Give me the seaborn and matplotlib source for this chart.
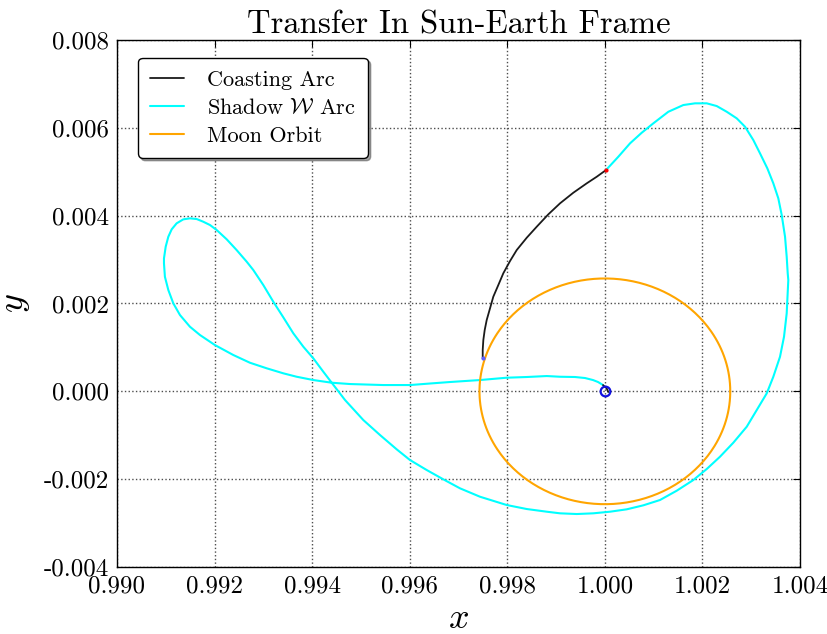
import numpy as np
import pandas as pd
import matplotlib
matplotlib.use("Agg")
import matplotlib.pyplot as plt
from matplotlib.ticker import FormatStrFormatter
import seaborn as sns

# Shadow W arc (rotating Sun-Earth frame, nondimensional units)
shadow_x = [0.999962, 0.999860, 0.999757, 0.999593, 0.999388, 0.999081, 0.998808,
            0.998398, 0.997988, 0.997441, 0.996826, 0.996416, 0.996006, 0.995459,
            0.994776, 0.994401, 0.994024, 0.993683, 0.993409, 0.993069, 0.992725,
            0.992384, 0.992007, 0.991701, 0.991495, 0.991291, 0.991154, 0.991052,
            0.990982, 0.990963, 0.990963, 0.990998, 0.991052, 0.991121, 0.991222,
            0.991359, 0.991495, 0.991634, 0.991768, 0.991906, 0.992043, 0.992249,
            0.992452, 0.992659, 0.992794, 0.992999, 0.993204, 0.993409, 0.993614,
            0.993819, 0.994024, 0.994229, 0.994401, 0.994674, 0.995049, 0.995391,
            0.995733, 0.996005, 0.996348, 0.996689, 0.997031, 0.997440, 0.997988,
            0.998398, 0.998808, 0.999081, 0.999423, 0.999763, 1.000106, 1.000448,
            1.000788, 1.001130, 1.001473, 1.001813, 1.002088, 1.002360, 1.002633,
            1.002908, 1.003113, 1.003318, 1.003453, 1.003590, 1.003672, 1.003727,
            1.003760, 1.003748, 1.003727, 1.003693, 1.003625, 1.003555, 1.003453,
            1.003330, 1.003180, 1.003043, 1.002873, 1.002703, 1.002498, 1.002293,
            1.002088, 1.001848, 1.001608, 1.001301, 1.000993, 1.000755, 1.000516,
            1.000276, 1.000024]
shadow_y = [0.000143, 0.000212, 0.000257, 0.000303, 0.000326, 0.000332, 0.000348,
            0.000326, 0.000310, 0.000257, 0.000212, 0.000178, 0.000143, 0.000143,
            0.000166, 0.000196, 0.000257, 0.000332, 0.000410, 0.000524, 0.000651,
            0.000827, 0.001054, 0.001282, 0.001471, 0.001737, 0.002004, 0.002307,
            0.002609, 0.002915, 0.003028, 0.003293, 0.003520, 0.003689, 0.003825,
            0.003916, 0.003939, 0.003923, 0.003862, 0.003787, 0.003673, 0.003461,
            0.003217, 0.002951, 0.002762, 0.002420, 0.002040, 0.001685, 0.001321,
            0.001016, 0.000751, 0.000446, 0.000196, -0.000198, -0.000654, -0.000995,
            -0.001321, -0.001564, -0.001792, -0.002004, -0.002209, -0.002400, -0.002589,
            -0.002680, -0.002741, -0.002778, -0.002794, -0.002778, -0.002741, -0.002687,
            -0.002596, -0.002475, -0.002263, -0.002020, -0.001769, -0.001489, -0.001170,
            -0.000806, -0.000426, -0.000046, 0.000332, 0.000788, 0.001243, 0.001776,
            0.002534, 0.002687, 0.003065, 0.003520, 0.004014, 0.004395, 0.004736,
            0.005078, 0.005419, 0.005722, 0.006025, 0.006216, 0.006366, 0.006496,
            0.006558, 0.006558, 0.006519, 0.006366, 0.006102, 0.005888, 0.005647,
            0.005342, 0.005039]

# Coasting arc
coast_x = [1.000024, 0.999833, 0.999628, 0.999353, 0.999081, 0.998841, 0.998603,
           0.998398, 0.998193, 0.998056, 0.997918, 0.997816, 0.997713, 0.997646,
           0.997578, 0.997537, 0.997509, 0.997496, 0.997496]
coast_y = [0.005039, 0.004886, 0.004736, 0.004522, 0.004281, 0.004030, 0.003748,
           0.003497, 0.003217, 0.002967, 0.002687, 0.002420, 0.002154, 0.001890,
           0.001624, 0.001396, 0.001168, 0.000940, 0.000751]

# Short coasting hook at departure from Earth
hook_x = [0.999962, 1.000037, 1.000070]
hook_y = [0.000143, 0.000068, -0.000016]

# Earth and Moon orbit
earth_x, earth_y = 1.0, 0.0
moon_radius = 0.00257
theta = np.linspace(0.0, 2.0 * np.pi, 361)
moon_x = earth_x + moon_radius * np.cos(theta)
moon_y = earth_y + moon_radius * np.sin(theta)

x_ticks = [0.990, 0.992, 0.994, 0.996, 0.998, 1.000, 1.002, 1.004]
y_ticks = [-0.004, -0.002, 0.000, 0.002, 0.004, 0.006, 0.008]

sns.set_theme(style="white")
plt.rcParams["font.family"] = ["cmr10", "DejaVu Serif"]
plt.rcParams["mathtext.fontset"] = "cm"
plt.rcParams["axes.unicode_minus"] = False
plt.rcParams["axes.formatter.use_mathtext"] = True
plt.rcParams["text.color"] = "black"
plt.rcParams["axes.labelcolor"] = "black"

fig = plt.figure(figsize=(8.28, 6.34), dpi=100)
ax = fig.add_axes([0.1413, 0.1057, 0.8249, 0.8312])

coast_df = pd.DataFrame({"x": coast_x, "y": coast_y})
shadow_df = pd.DataFrame({"x": shadow_x, "y": shadow_y})
moon_df = pd.DataFrame({"x": moon_x, "y": moon_y})
hook_df = pd.DataFrame({"x": hook_x, "y": hook_y})

sns.lineplot(data=coast_df, x="x", y="y", sort=False, estimator=None, ax=ax,
             color="#1a1a1a", lw=1.3, label="Coasting Arc")
sns.lineplot(data=shadow_df, x="x", y="y", sort=False, estimator=None, ax=ax,
             color="#00ffff", lw=1.5, label=r"Shadow $\mathcal{W}$ Arc")
sns.lineplot(data=moon_df, x="x", y="y", sort=False, estimator=None, ax=ax,
             color="#ffa500", lw=1.5, label="Moon Orbit")
sns.lineplot(data=hook_df, x="x", y="y", sort=False, estimator=None, ax=ax,
             color="#1a1a1a", lw=1.3, legend=False)

ax.plot([earth_x], [earth_y], marker="o", ms=7, mfc="none", mec="#1010e0",
        mew=1.6, ls="none")
ax.plot([coast_x[0]], [coast_y[0]], marker="o", ms=2, color="red", ls="none")
ax.plot([coast_x[-1]], [coast_y[-1]], marker="o", ms=2, color="#6060ff", ls="none")

ax.set_xlim(0.990, 1.004)
ax.set_ylim(-0.004, 0.008)
ax.set_xticks(x_ticks)
ax.set_yticks(y_ticks)
ax.xaxis.set_major_formatter(FormatStrFormatter("%.3f"))
ax.yaxis.set_major_formatter(FormatStrFormatter("%.3f"))
ax.tick_params(direction="in", length=5, width=0.8, top=True, right=True,
               labelsize=18, colors="black", pad=6)
ax.grid(True, ls=":", color="0.3", lw=1.0)
for s in ax.spines.values():
    s.set_color("black")
    s.set_linewidth(1.0)

ax.set_title("Transfer In Sun-Earth Frame", fontsize=23.5, pad=5, color="black")
ax.set_xlabel(r"$x$", fontsize=26, labelpad=4)
ax.set_ylabel(r"$y$", fontsize=26, labelpad=8)

leg = ax.legend(loc="upper left", bbox_to_anchor=(0.031, 0.966), borderaxespad=0,
                fontsize=16, frameon=True, fancybox=True, shadow=True,
                handlelength=1.5, borderpad=0.55, labelspacing=0.38, handletextpad=1.05)
leg.get_frame().set_edgecolor("black")
leg.get_frame().set_linewidth(1.0)
leg.get_frame().set_alpha(1.0)
for t in leg.get_texts():
    t.set_color("black")

fig.savefig("out.png", dpi=100)
